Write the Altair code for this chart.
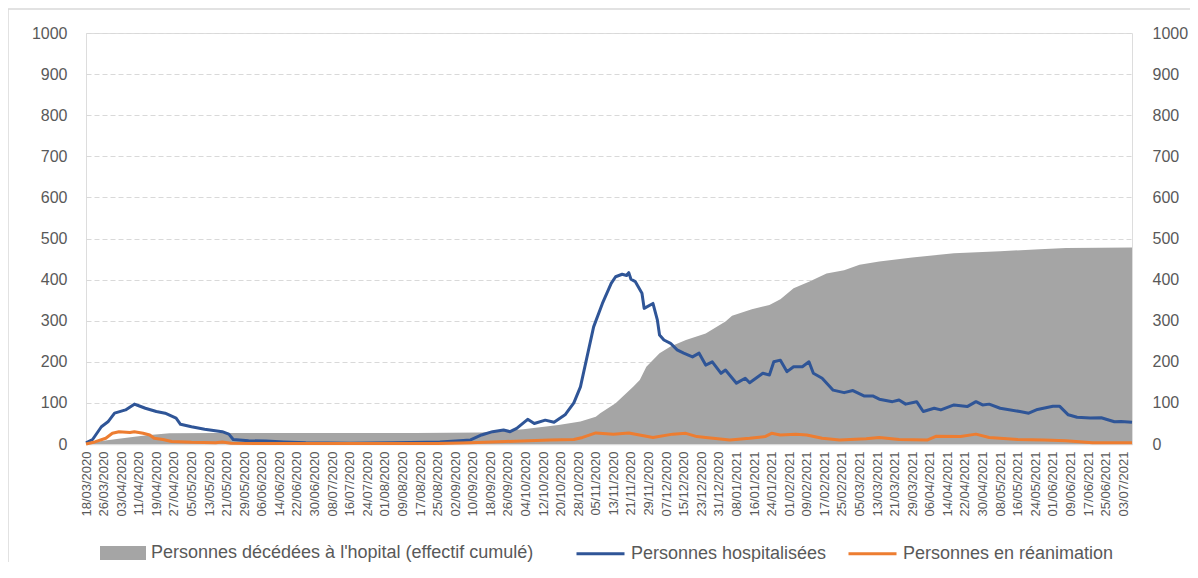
import altair as alt
import pandas as pd

# ---------------- data ----------------
nom_deces = "Personnes décédées à l'hopital (effectif cumulé)"
nom_hosp = "Personnes hospitalisées"
nom_rea = "Personnes en réanimation"

dec_dates = ["2020-03-18", "2020-03-25", "2020-04-01", "2020-04-10", "2020-04-16", "2020-04-25",
             "2020-05-17", "2020-08-15", "2020-09-14", "2020-10-03", "2020-10-19", "2020-10-29",
             "2020-11-05", "2020-11-07", "2020-11-14", "2020-11-22", "2020-11-25", "2020-11-28",
             "2020-12-04", "2020-12-09", "2020-12-16", "2020-12-25", "2021-01-03", "2021-01-06",
             "2021-01-15", "2021-01-23", "2021-01-28", "2021-02-03", "2021-02-10", "2021-02-18",
             "2021-02-26", "2021-03-05", "2021-03-14", "2021-03-29", "2021-04-17", "2021-05-08",
             "2021-05-26", "2021-06-07", "2021-07-07"]
dec_values = [0, 7, 12, 18, 22, 26, 27, 27, 28, 36, 46, 55, 66, 75, 99, 139, 156, 188, 221, 237,
              253, 269, 298, 312, 328, 338, 352, 379, 395, 415, 423, 436, 444, 454, 464, 469, 474,
              477, 478]

hosp_dates = ["2020-03-18", "2020-03-21", "2020-03-25", "2020-03-28", "2020-03-31", "2020-04-05",
              "2020-04-09", "2020-04-11", "2020-04-14", "2020-04-19", "2020-04-23", "2020-04-28",
              "2020-04-30", "2020-05-05", "2020-05-11", "2020-05-19", "2020-05-22", "2020-05-24",
              "2020-05-31", "2020-06-08", "2020-06-16", "2020-06-26", "2020-07-16", "2020-08-05",
              "2020-08-20", "2020-08-26", "2020-09-04", "2020-09-09", "2020-09-14", "2020-09-19",
              "2020-09-24", "2020-09-27", "2020-09-30", "2020-10-05", "2020-10-08", "2020-10-13",
              "2020-10-17", "2020-10-22", "2020-10-26", "2020-10-29", "2020-11-01", "2020-11-04",
              "2020-11-08", "2020-11-12", "2020-11-14", "2020-11-17", "2020-11-19", "2020-11-20",
              "2020-11-21", "2020-11-23", "2020-11-26", "2020-11-27", "2020-12-01", "2020-12-03",
              "2020-12-04", "2020-12-06", "2020-12-09", "2020-12-12", "2020-12-15", "2020-12-19",
              "2020-12-22", "2020-12-25", "2020-12-28", "2021-01-01", "2021-01-03", "2021-01-08",
              "2021-01-12", "2021-01-14", "2021-01-20", "2021-01-23", "2021-01-25", "2021-01-28",
              "2021-01-31", "2021-02-03", "2021-02-07", "2021-02-10", "2021-02-12", "2021-02-16",
              "2021-02-21", "2021-02-26", "2021-03-02", "2021-03-07", "2021-03-11", "2021-03-14",
              "2021-03-20", "2021-03-23", "2021-03-26", "2021-03-31", "2021-04-03", "2021-04-08",
              "2021-04-11", "2021-04-17", "2021-04-23", "2021-04-27", "2021-04-30", "2021-05-03",
              "2021-05-08", "2021-05-17", "2021-05-21", "2021-05-25", "2021-06-01", "2021-06-04",
              "2021-06-08", "2021-06-12", "2021-06-18", "2021-06-23", "2021-06-29", "2021-07-02",
              "2021-07-07"]
hosp_values = [3, 11, 42, 54, 75, 83, 97, 93, 87, 79, 75, 63, 48, 42, 36, 30, 24, 11, 8, 7,
               5, 3, 2, 3, 4, 5, 8, 10, 22, 30, 34, 30, 38, 60, 50, 58, 53, 71, 100, 139,
               212, 285, 342, 391, 407, 413, 410, 417, 401, 395, 367, 330, 342, 302, 265, 253, 245,
               229, 221, 212, 221, 192, 200, 172, 180, 148, 160, 149, 172, 168, 200, 204, 176, 188,
               188, 200, 172, 160, 131, 125, 130, 117, 117, 109, 103, 107, 97, 103, 79, 87, 83, 95,
               91, 103, 95, 97, 87, 79, 75, 84, 92, 92, 71, 65, 63, 64, 54, 55, 53]

rea_dates = ["2020-03-18", "2020-03-22", "2020-03-27", "2020-03-30", "2020-04-02", "2020-04-07",
             "2020-04-09", "2020-04-13", "2020-04-16", "2020-04-18", "2020-04-22", "2020-04-26",
             "2020-05-05", "2020-05-16", "2020-05-19", "2020-05-23", "2020-06-06", "2020-08-25",
             "2020-09-09", "2020-09-25", "2020-10-15", "2020-10-26", "2020-10-30", "2020-11-05",
             "2020-11-13", "2020-11-20", "2020-12-01", "2020-12-10", "2020-12-16", "2020-12-21",
             "2020-12-25", "2021-01-05", "2021-01-14", "2021-01-21", "2021-01-24", "2021-01-28",
             "2021-02-04", "2021-02-09", "2021-02-16", "2021-02-24", "2021-03-08", "2021-03-14",
             "2021-03-23", "2021-04-05", "2021-04-09", "2021-04-20", "2021-04-27", "2021-05-03",
             "2021-05-16", "2021-05-28", "2021-06-07", "2021-06-19", "2021-07-07"]
rea_values = [0, 5, 14, 26, 30, 28, 30, 26, 22, 14, 11, 6, 4, 3, 5, 2, 1, 1, 3, 6, 10, 11, 16,
              27, 24, 27, 16, 24, 26, 18, 16, 10, 14, 18, 26, 22, 24, 22, 14, 10, 13, 16, 11, 10,
              19, 18, 24, 16, 11, 10, 8, 3, 3]

x_tick_labels = ["18/03/2020", "26/03/2020", "03/04/2020", "11/04/2020", "19/04/2020", "27/04/2020",
                 "05/05/2020", "13/05/2020", "21/05/2020", "29/05/2020", "06/06/2020", "14/06/2020",
                 "22/06/2020", "30/06/2020", "08/07/2020", "16/07/2020", "24/07/2020", "01/08/2020",
                 "09/08/2020", "17/08/2020", "25/08/2020", "02/09/2020", "10/09/2020", "18/09/2020",
                 "26/09/2020", "04/10/2020", "12/10/2020", "20/10/2020", "28/10/2020", "05/11/2020",
                 "13/11/2020", "21/11/2020", "29/11/2020", "07/12/2020", "15/12/2020", "23/12/2020",
                 "31/12/2020", "08/01/2021", "16/01/2021", "24/01/2021", "01/02/2021", "09/02/2021",
                 "17/02/2021", "25/02/2021", "05/03/2021", "13/03/2021", "21/03/2021", "29/03/2021",
                 "06/04/2021", "14/04/2021", "22/04/2021", "30/04/2021", "08/05/2021", "16/05/2021",
                 "24/05/2021", "01/06/2021", "09/06/2021", "17/06/2021", "25/06/2021", "03/07/2021"]
x_domain_labels = ["18/03/2020", "07/07/2021"]
y_ticks = [0, 100, 200, 300, 400, 500, 600, 700, 800, 900, 1000]

# ---------------- tables ----------------
def to_dt(s):
    d, m, y = (int(p) for p in s.split("/"))
    return alt.DateTime(year=y, month=m, date=d)

df_dec = pd.DataFrame({"date": pd.to_datetime(dec_dates), "valeur": dec_values, "serie": nom_deces})
df_lines = pd.concat([
    pd.DataFrame({"date": pd.to_datetime(hosp_dates), "valeur": hosp_values, "serie": nom_hosp}),
    pd.DataFrame({"date": pd.to_datetime(rea_dates), "valeur": rea_values, "serie": nom_rea}),
], ignore_index=True)

FONT = "Liberation Sans"
TXT = "#595959"

x_enc = alt.X(
    "date:T",
    scale=alt.Scale(domain=[to_dt(s) for s in x_domain_labels]),
    axis=alt.Axis(values=[to_dt(s) for s in x_tick_labels], format="%d/%m/%Y", labelAngle=270,
                  labelFontSize=13, labelColor=TXT, labelFont=FONT, ticks=False, labelPadding=7,
                  labelOverlap=False, labelFlush=False, grid=False, title=None,
                  domainColor="#D9D9D9", domainWidth=1.5),
)

frame = alt.Chart(alt.Data(values=[{}])).mark_rect(
    fillOpacity=0, stroke="#D9D9D9", strokeWidth=1.5
).encode(x=alt.value(-78), x2=alt.value(1400), y=alt.value(-24), y2=alt.value(800))

area = alt.Chart(df_dec).mark_area(opacity=1, interpolate="linear").encode(
    x=x_enc,
    y=alt.Y("valeur:Q", scale=alt.Scale(domain=[0, 1000]),
            axis=alt.Axis(orient="left", values=y_ticks, format="d", title=None, ticks=False,
                          domain=False, labelFontSize=16, labelColor=TXT, labelFont=FONT,
                          labelPadding=19, grid=True, gridColor="#D9D9D9", gridDash=[5, 3],
                          gridWidth=1)),
    color=alt.Color("serie:N", scale=alt.Scale(domain=[nom_deces], range=["#A5A5A5"]),
                    legend=alt.Legend(title=None, orient="none", legendX=14, legendY=497,
                                      symbolType="M-1,-0.3H1V0.3H-1Z", symbolSize=2116,
                                      symbolOpacity=1, symbolStrokeWidth=0,
                                      labelFontSize=18, labelColor=TXT, labelFont=FONT,
                                      labelOffset=5, labelLimit=0, padding=0)),
)

lines = alt.Chart(df_lines).mark_line(strokeWidth=3, strokeJoin="round").encode(
    x=x_enc,
    y=alt.Y("valeur:Q", scale=alt.Scale(domain=[0, 1000]),
            axis=alt.Axis(orient="right", values=y_ticks, format="d", title=None, ticks=False,
                          domain=False, labelFontSize=16, labelColor=TXT, labelFont=FONT,
                          labelPadding=20, grid=False)),
    color=alt.Color("serie:N", scale=alt.Scale(domain=[nom_hosp, nom_rea], range=["#2F5597", "#ED7D31"]),
                    legend=alt.Legend(title=None, orient="none", legendX=489, legendY=495,
                                      direction="horizontal", symbolType="stroke", symbolSize=2304,
                                      symbolStrokeWidth=3, labelFontSize=18, labelColor=TXT,
                                      labelFont=FONT, labelOffset=5, labelLimit=0,
                                      columnPadding=15, padding=0)),
)

chart = alt.layer(frame, area, lines).resolve_scale(
    y="independent", color="independent"
).properties(
    width=1046, height=411,
    autosize=alt.AutoSizeParams(type="none"),
    padding={"left": 78, "top": 25, "right": 58, "bottom": 118},
    background="white",
).configure_view(stroke=None).configure(font=FONT)

chart.save("out.html", embed_options={"renderer": "svg", "actions": False})
